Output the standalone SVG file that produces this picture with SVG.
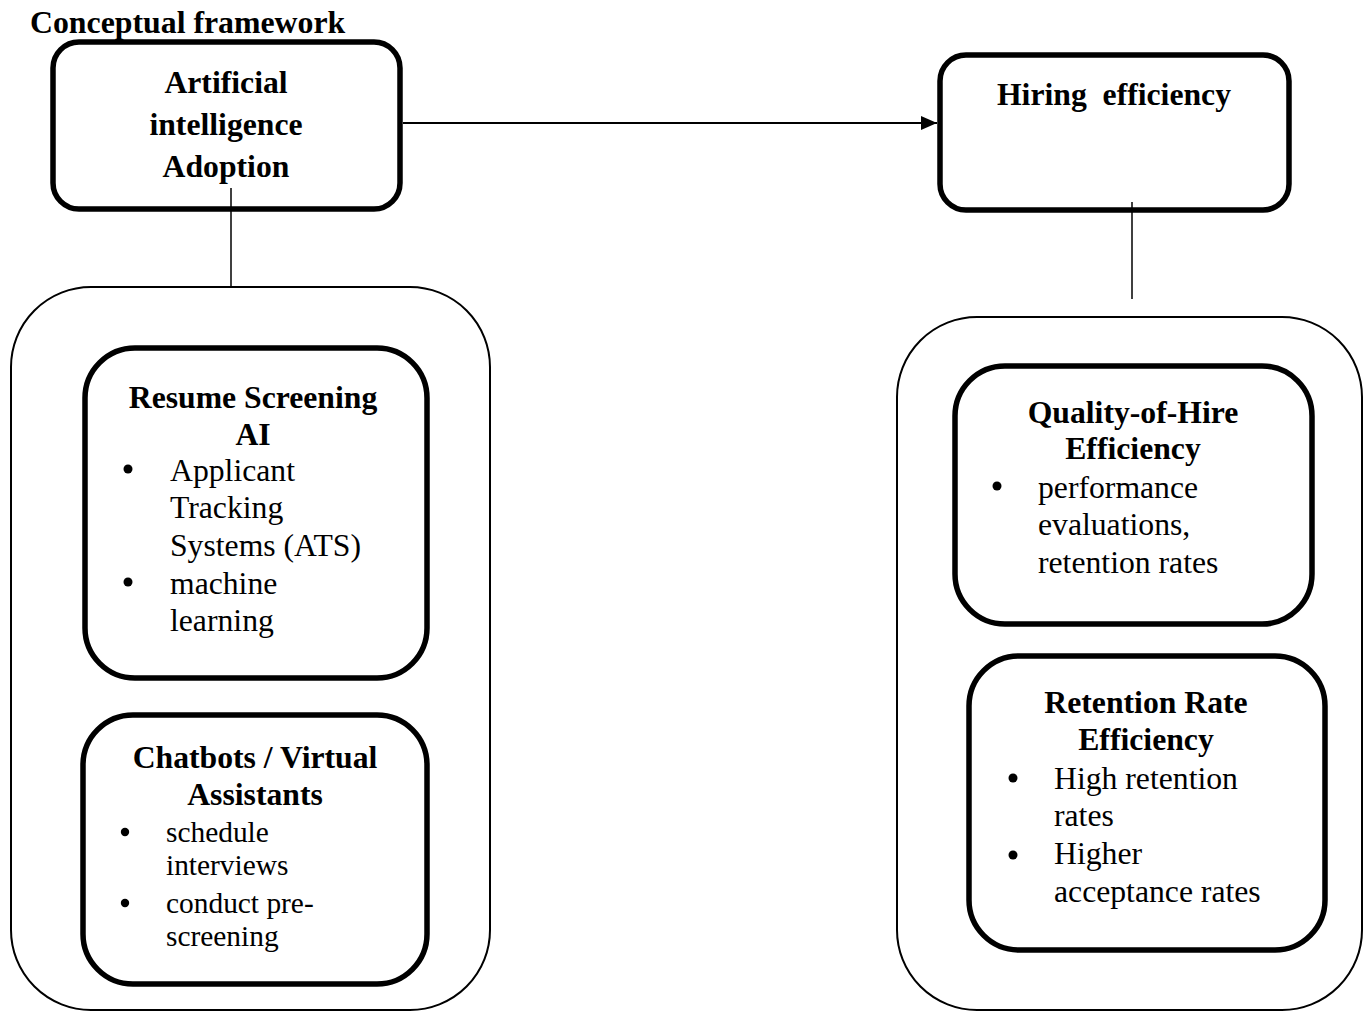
<svg xmlns="http://www.w3.org/2000/svg" width="1369" height="1012" viewBox="0 0 1369 1012">
<style>
text{font-family:"Liberation Serif","Times New Roman",serif;fill:#000}
.h{font-weight:bold;font-size:31.7px;text-anchor:middle}
.t{font-size:31.7px}
.s{font-size:29.4px}
.thick{fill:#fff;stroke:#000;stroke-width:5.5}
.cont{fill:#fff;stroke:#000;stroke-width:2}
.ln{stroke:#000;stroke-width:1.5;fill:none}
.bul{fill:#000}
</style>
<defs>
<marker id="arr" markerWidth="16" markerHeight="14" refX="16" refY="7" orient="auto" markerUnits="userSpaceOnUse">
<polygon points="0,0 16,7 0,14" fill="#000"/>
</marker>
</defs>
<rect width="1369" height="1012" fill="#fff"/>
<text x="30" y="33" style="font-weight:bold;font-size:31.8px">Conceptual framework</text>

<g id="left-container"><rect class="cont" x="11" y="287" width="479" height="723" rx="80" ry="80"/></g>
<g id="right-container"><rect class="cont" x="897" y="317" width="465" height="693" rx="80" ry="80"/></g>

<g id="ai-adoption">
<rect class="thick" x="53" y="42" width="347" height="167" rx="26"/>
<text class="h" x="226" y="93">Artificial</text>
<text class="h" x="226" y="135">intelligence</text>
<text class="h" x="226" y="177">Adoption</text>
</g>

<g id="hiring-efficiency">
<rect class="thick" x="940" y="55" width="349" height="155" rx="26"/>
<text class="h" x="1114" y="105" xml:space="preserve">Hiring  efficiency</text>
</g>

<g id="connectors">
<line class="ln" x1="231" y1="188" x2="231" y2="287"/>
<line class="ln" x1="1132" y1="202" x2="1132" y2="299"/>
<line x1="403" y1="123" x2="937" y2="123" stroke="#000" stroke-width="2" marker-end="url(#arr)"/>
</g>

<g id="resume-screening">
<rect class="thick" x="85" y="348" width="342" height="330" rx="50"/>
<text class="h" x="253" y="408">Resume Screening</text>
<text class="h" x="253" y="445">AI</text>
<circle class="bul" cx="128" cy="469" r="4.5"/>
<text class="t" x="170" y="481">Applicant</text>
<text class="t" x="170" y="518">Tracking</text>
<text class="t" x="170" y="556">Systems (ATS)</text>
<circle class="bul" cx="128" cy="582" r="4.5"/>
<text class="t" x="170" y="594">machine</text>
<text class="t" x="170" y="631">learning</text>
</g>

<g id="chatbots">
<rect class="thick" x="83" y="715" width="344" height="269" rx="50"/>
<text class="h" x="255" y="768">Chatbots / Virtual</text>
<text class="h" x="255" y="805">Assistants</text>
<circle class="bul" cx="125" cy="832" r="4.2"/>
<text class="s" x="166" y="842">schedule</text>
<text class="s" x="166" y="875">interviews</text>
<circle class="bul" cx="125" cy="903" r="4.2"/>
<text class="s" x="166" y="913">conduct pre-</text>
<text class="s" x="166" y="946">screening</text>
</g>

<g id="quality-of-hire">
<rect class="thick" x="955" y="366" width="357" height="258" rx="50"/>
<text class="h" x="1133" y="423">Quality-of-Hire</text>
<text class="h" x="1133" y="459">Efficiency</text>
<circle class="bul" cx="997" cy="486" r="4.5"/>
<text class="t" x="1038" y="498">performance</text>
<text class="t" x="1038" y="535">evaluations,</text>
<text class="t" x="1038" y="573">retention rates</text>
</g>

<g id="retention-rate">
<rect class="thick" x="969" y="656" width="356" height="294" rx="50"/>
<text class="h" x="1146" y="713">Retention Rate</text>
<text class="h" x="1146" y="750">Efficiency</text>
<circle class="bul" cx="1013" cy="778" r="4.5"/>
<text class="t" x="1054" y="789">High retention</text>
<text class="t" x="1054" y="826">rates</text>
<circle class="bul" cx="1013" cy="855" r="4.5"/>
<text class="t" x="1054" y="864">Higher</text>
<text class="t" x="1054" y="902">acceptance rates</text>
</g>
</svg>
